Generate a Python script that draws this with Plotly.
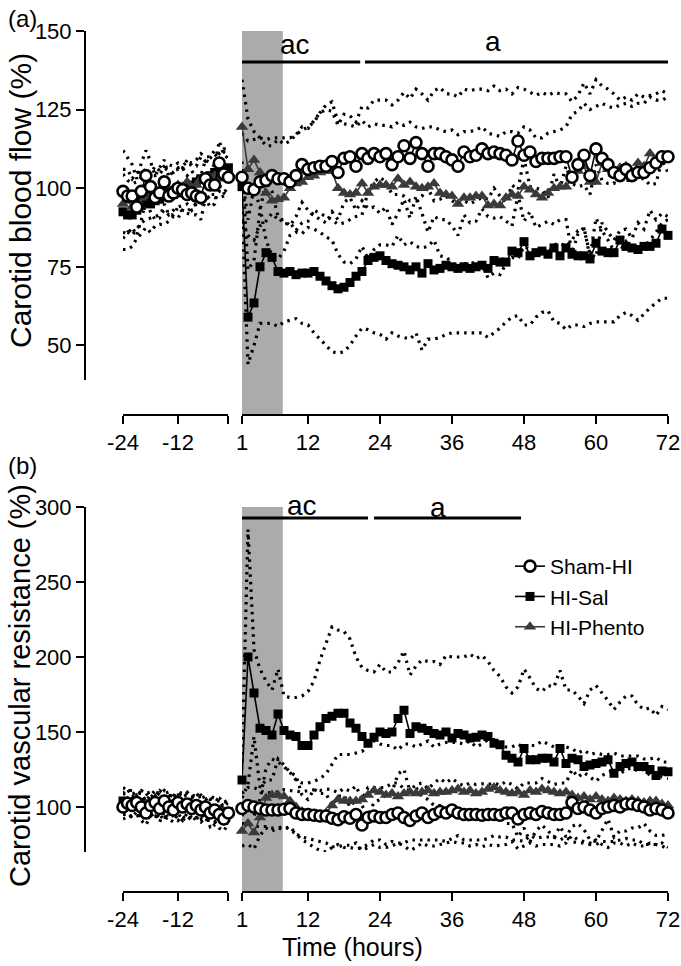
import plotly.graph_objects as go

# ---------------- DATA ----------------
pre_hours = list(range(-24, 0))      # -24 .. -1 h
post_hours = list(range(1, 73))      # 1 .. 72 h

# Panel (a) carotid blood flow (%), mean and SD
flow_pre_sham = [99, 97.5, 97.5, 94, 99, 104, 100.5, 97, 98.5, 102, 97.5, 98.5, 100, 99.5, 98, 98.5, 97.5, 97, 103, 101, 101, 108, 104.5, 103.5]
flow_pre_sal = [92.5, 91.5, 91.5, 93, 94.5, 95.5, 95, 96, 96.5, 97.5, 97.5, 98, 98.5, 100, 100.5, 101, 102, 103, 103, 104, 105, 105, 105.5, 106.5]
flow_pre_phento = [95, 96, 94, 96, 97, 98, 97.5, 99, 98.5, 100, 99.5, 100, 101, 100.5, 102, 100, 101, 103, 102.5, 103.5, 104, 103, 104.5, 104]
flow_pre_sham_sd = [13, 12, 10, 9, 9, 8, 8, 7, 8, 7, 6, 7, 6, 7, 6, 7, 6, 7, 6, 7, 6, 7, 6, 6]
flow_pre_sal_sd = [12, 11, 10, 9, 9, 8, 9, 8, 8, 9, 8, 7, 8, 7, 8, 7, 7, 8, 7, 6, 7, 6, 7, 6]
flow_pre_phento_sd = [11, 10, 9, 9, 8, 8, 7, 8, 7, 7, 8, 7, 7, 6, 7, 7, 6, 7, 6, 6, 7, 6, 7, 6]

flow_post_sham = [103.5, 100, 99.5, 102, 102.5, 104, 103, 103, 102, 104,
                  107.5, 106, 106.5, 107, 107, 108.5, 105, 109.5, 110, 107,
                  111, 109.5, 111, 110, 111, 107.5, 110, 113.5, 109.5, 114.5,
                  111, 107, 111, 111, 110, 109, 107, 111.5, 110, 110.5,
                  112.5, 111, 111.5, 111, 110.5, 109, 115, 110.5, 111.5, 108.5,
                  109.5, 109.5, 109.5, 110, 110, 103.5, 107.5, 110.5, 104, 112.5,
                  109.5, 107.5, 105, 104, 106, 104, 105, 105, 106.5, 108,
                  110, 110]
flow_post_sham_sd = [14, 15, 16, 14, 13, 12, 13, 13, 14, 13,
                     12, 13, 15, 17, 18, 16, 15, 14, 13, 14,
                     15, 16, 17, 18, 17, 19, 18, 17, 19, 17,
                     19, 21, 20, 21, 20, 21, 22, 20, 21, 21,
                     19, 20, 21, 20, 21, 21, 17, 21, 19, 21,
                     21, 20, 21, 20, 20, 24, 22, 23, 26, 22,
                     23, 24, 25, 24, 23, 24, 25, 24, 23, 22,
                     21, 20]
flow_post_sal = [100.5, 59, 63.5, 75, 79.5, 78, 73.5, 73, 73.5, 72.5,
                 73, 73, 73.5, 72, 70.5, 69, 68, 68.5, 70, 72,
                 73.5, 77, 78, 78.5, 77, 76, 75.5, 75, 74, 75,
                 73, 76, 74, 74.5, 75.5, 75, 74.5, 75, 74.5, 75,
                 75.5, 74.5, 77, 76.5, 76.5, 80, 79.5, 83, 78.5, 79.5,
                 80, 79, 81, 78.5, 81, 79, 78.5, 78.5, 77.5, 82.5,
                 80, 79.5, 79.5, 83.5, 81.5, 81, 80.5, 81.5, 81.5, 82.5,
                 87, 85]
flow_post_sal_sd = [8, 15, 13.5, 18, 22.5, 21, 17.5, 15.5, 15.5, 14,
                    16, 16.5, 19.5, 20, 20.5, 21, 20.5, 20.5, 20, 19,
                    18, 22, 24, 25, 25, 22, 22.5, 22.5, 22, 21,
                    24.5, 24, 22, 22, 22, 21, 20.5, 21, 20.5, 21,
                    21.5, 22, 23, 21, 19, 21, 20, 26.5, 22, 20.5,
                    19.5, 18, 23.5, 21.5, 26, 22.5, 22, 22.5, 20.5, 25,
                    22.5, 22, 22, 24, 21, 21.5, 22.5, 21.5, 19.5, 19,
                    22, 20]
flow_post_phento = [119.5, 106, 109, 105, 98.5, 96, 96.5, 97, 100, 101.5,
                    102, 103.5, 104, 105, 105.5, 105.5, 100, 98.5, 98, 98.5,
                    101.5, 98.5, 100.5, 101, 101, 100.5, 103, 101, 102, 100.5,
                    100, 100.5, 101.5, 98.5, 98, 97.5, 95, 97, 97, 97.5,
                    97.5, 94.5, 95, 94.5, 97, 98, 97.5, 100.5, 99.5, 98,
                    97, 98.5, 100, 100.5, 100.5, 103.5, 105.5, 107, 102, 102,
                    108, 106, 104.5, 106.5, 107, 105, 108, 107, 111, 109,
                    110, 110]
flow_post_phento_sd = [15, 16, 9, 11, 15, 17.5, 19, 17, 15, 15.5,
                       16.5, 16, 17, 19, 21, 22, 21, 22, 22, 21,
                       20, 21, 20, 19, 19, 19, 18, 19, 19, 19,
                       19, 19, 18, 20, 20, 21, 22, 21, 21, 21,
                       22, 23, 22, 22, 21, 20, 20, 19, 19, 18,
                       19, 19, 18, 18, 19, 20, 19, 20, 23, 24,
                       19, 20, 21, 20, 20, 21, 19, 20, 18, 19,
                       18, 19]

# Panel (b) carotid vascular resistance (%), mean and SD
res_pre_sham = [100, 102.5, 101, 103, 100, 96, 101, 103, 99, 104, 100, 98, 103, 100, 102, 99, 101, 98, 100, 96, 98, 95, 92, 96]
res_pre_sal = [104, 103, 102, 101, 103, 100, 102, 101, 103, 100, 102, 101, 99, 102, 100, 101, 99, 100, 98, 99, 97, 98, 96, 97]
res_pre_phento = [102, 104, 100, 103, 101, 102, 100, 103, 101, 100, 102, 100, 101, 99, 102, 100, 99, 101, 98, 99, 97, 98, 97, 96]
res_pre_sham_sd = [8, 9, 7, 8, 9, 8, 7, 8, 9, 7, 8, 8, 7, 9, 8, 7, 8, 8, 7, 9, 8, 9, 8, 7]
res_pre_sal_sd = [9, 8, 9, 7, 8, 9, 8, 7, 8, 9, 8, 7, 8, 8, 9, 7, 8, 8, 7, 8, 9, 8, 7, 8]
res_pre_phento_sd = [7, 8, 7, 6, 8, 7, 6, 7, 8, 7, 6, 7, 7, 8, 6, 7, 7, 6, 7, 8, 7, 6, 7, 6]

res_post_sham = [99, 101, 100, 99, 98, 98, 98, 98.5, 99, 96,
                 95, 95, 94.5, 94, 94, 92.5, 91.5, 93.5, 92.5, 95,
                 88, 93, 94, 93, 93, 95, 96, 93, 91, 94,
                 96, 93, 95, 97, 96, 98, 96, 95, 95, 95,
                 94.5, 95, 95, 94.5, 96, 96, 92, 95, 96, 95,
                 97, 96, 95, 95, 96, 103, 99, 100, 98, 96,
                 99, 100, 101, 100, 102, 102, 101, 100, 98, 99,
                 98, 96]
res_post_sham_sd = [10, 12, 13, 12, 11, 12, 12, 13, 12, 14,
                    15, 16, 17, 17, 18, 19, 18, 19, 18, 19,
                    17, 20, 19, 20, 20, 21, 20, 19, 20, 21,
                    20, 19, 21, 22, 20, 21, 20, 19, 21, 20,
                    21, 20, 21, 20, 21, 19, 20, 21, 20, 21,
                    22, 21, 20, 21, 20, 22, 21, 23, 22, 21,
                    22, 23, 24, 22, 23, 24, 23, 25, 23, 24,
                    22, 23]
res_post_sal = [118, 200, 176, 152.5, 151, 148, 162, 151, 148, 147,
                141, 141, 148, 153.5, 159, 160.5, 162.5, 162.5, 156, 152.5,
                147, 142.5, 146.5, 150, 149, 150, 159, 164.5, 149, 153.5,
                152.5, 151, 149, 148, 150, 146, 149, 148, 146, 146.5,
                148, 147, 142.5, 141.5, 134.5, 132.5, 130, 139, 131.5, 131.5,
                132.5, 132.5, 130, 139, 129, 132.5, 131.5, 127, 128, 129,
                130, 131.5, 122.5, 127, 129, 130, 127, 127, 125, 121,
                124, 123.5]
res_post_sal_sd = [12, 85, 29, 39.5, 33, 30, 30, 23, 25, 26,
                   33, 36, 36, 44.5, 50, 59.5, 55.5, 54.5, 56, 47.5,
                   46, 48.5, 43.5, 45, 41, 40, 37, 39.5, 39, 40.5,
                   45.5, 46, 48, 47, 51, 54, 51, 52, 56, 52.5,
                   53, 50, 48.5, 45.5, 45.5, 43.5, 50, 53, 54.5, 47.5,
                   44.5, 48.5, 50, 52, 49, 45.5, 42.5, 42, 50, 52,
                   46, 39.5, 42.5, 43, 45, 44, 41, 38, 41, 40,
                   43, 41.5]
res_post_phento = [84, 89, 83, 93, 106, 108, 108, 107, 104, 100,
                   97, 96, 95, 95, 96, 101, 105, 104, 104, 104,
                   105, 108, 111, 110, 108, 109, 107, 109, 110, 109,
                   110, 111, 109, 110, 110, 111, 112, 110, 111, 109,
                   110, 112, 113, 111, 110, 109, 110, 108, 111, 110,
                   112, 111, 110, 109, 110, 108, 106, 107, 105, 107,
                   105, 104, 106, 105, 104, 105, 104, 103, 104, 104,
                   102, 101]
res_post_phento_sd = [10, 14, 11, 12, 20, 24, 22, 20, 19, 18,
                      19, 20, 22, 24, 26, 28, 30, 31, 31, 32,
                      32, 33, 33, 32, 33, 32, 31, 33, 32, 31,
                      32, 33, 31, 32, 33, 32, 31, 32, 33, 31,
                      32, 33, 32, 31, 30, 31, 32, 31, 30, 31,
                      32, 31, 30, 31, 30, 31, 30, 31, 30, 29,
                      30, 31, 30, 29, 30, 29, 30, 29, 28, 29,
                      28, 29]

group_names = ["Sham-HI", "HI-Sal", "HI-Phento"]
flow_yticks = [50, 75, 100, 125, 150]
res_yticks = [100, 150, 200, 250, 300]
pre_ticks = [-24, -12, -1]
pre_ticktext = ["-24", "-12", ""]
post_ticks = [1, 12, 24, 36, 48, 60, 72]

# ---------------- STYLE ----------------
W, H = 681, 966
FONT = "Liberation Sans, Arial, Helvetica, sans-serif"
BLACK = "#000000"
PHENTO_C = "#3a3a3a"

styles = {
    "Sham-HI": dict(marker=dict(symbol="circle", size=11, color="white",
                                line=dict(color=BLACK, width=2.6)),
                    line=dict(color=BLACK, width=1.6), rank=1),
    "HI-Sal": dict(marker=dict(symbol="square", size=9, color=BLACK,
                               line=dict(color=BLACK, width=0)),
                   line=dict(color=BLACK, width=1.6), rank=2),
    "HI-Phento": dict(marker=dict(symbol="triangle-up", size=11, color=PHENTO_C,
                                  line=dict(color=PHENTO_C, width=0)),
                      line=dict(color=PHENTO_C, width=1.6), rank=3),
}

def px_x(p):
    return p / W

def px_y(p):
    return 1 - p / H

fig = go.Figure()

def add_bands(xa, ya, hours, mean, sd):
    upper = [m + s for m, s in zip(mean, sd)]
    lower = [m - s for m, s in zip(mean, sd)]
    for band in (upper, lower):
        fig.add_trace(go.Scatter(
            x=hours, y=band, mode="lines", xaxis=xa, yaxis=ya,
            line=dict(color=BLACK, width=3.2, dash="2.5px,5px"),
            showlegend=False, hoverinfo="skip", cliponaxis=False))

def add_mean(xa, ya, hours, mean, name, legend):
    st = styles[name]
    fig.add_trace(go.Scatter(
        x=hours, y=mean, mode="lines+markers", xaxis=xa, yaxis=ya,
        name=name, marker=st["marker"], line=st["line"],
        showlegend=legend, legendrank=st["rank"], cliponaxis=False))

panels = [
    ("x", "x2", "y",
     [flow_pre_sham, flow_pre_sal, flow_pre_phento],
     [flow_pre_sham_sd, flow_pre_sal_sd, flow_pre_phento_sd],
     [flow_post_sham, flow_post_sal, flow_post_phento],
     [flow_post_sham_sd, flow_post_sal_sd, flow_post_phento_sd], False),
    ("x3", "x4", "y2",
     [res_pre_sham, res_pre_sal, res_pre_phento],
     [res_pre_sham_sd, res_pre_sal_sd, res_pre_phento_sd],
     [res_post_sham, res_post_sal, res_post_phento],
     [res_post_sham_sd, res_post_sal_sd, res_post_phento_sd], True),
]

draw_order = [1, 2, 0]  # Sal, Phento, Sham on top
for xpre, xpost, ya, pre_m, pre_s, post_m, post_s, leg in panels:
    for i in range(3):
        add_bands(xpre, ya, pre_hours, pre_m[i], pre_s[i])
        add_bands(xpost, ya, post_hours, post_m[i], post_s[i])
    for i in draw_order:
        add_mean(xpre, ya, pre_hours, pre_m[i], group_names[i], False)
        add_mean(xpost, ya, post_hours, post_m[i], group_names[i], leg)

tickfont = dict(family=FONT, size=22, color=BLACK)
axis_common = dict(showline=True, linecolor=BLACK, linewidth=2, ticks="outside",
                   ticklen=8, tickwidth=2, tickcolor=BLACK, showgrid=False,
                   zeroline=False, tickfont=tickfont, anchor="free")

xa_pre_dom = [px_x(123), px_x(228.4)]
xa_post_dom = [px_x(242), px_x(668)]

fig.update_layout(
    width=W, height=H,
    margin=dict(l=0, r=0, t=0, b=0, pad=0, autoexpand=False),
    paper_bgcolor="white", plot_bgcolor="rgba(0,0,0,0)",
    font=dict(family=FONT, color=BLACK),
    xaxis=dict(domain=xa_pre_dom, range=[-24, -1], position=px_y(415),
               tickvals=pre_ticks, ticktext=pre_ticktext, **axis_common),
    xaxis2=dict(domain=xa_post_dom, range=[1, 72], position=px_y(415),
                tickvals=post_ticks, **axis_common),
    xaxis3=dict(domain=xa_pre_dom, range=[-24, -1], position=px_y(892),
                tickvals=pre_ticks, ticktext=pre_ticktext, **axis_common),
    xaxis4=dict(domain=xa_post_dom, range=[1, 72], position=px_y(892),
                tickvals=post_ticks, **axis_common),
    yaxis=dict(domain=[px_y(380), px_y(31)], range=[39, 150], position=px_x(85),
               tickvals=flow_yticks, **axis_common),
    yaxis2=dict(domain=[px_y(852), px_y(507)], range=[70, 300], position=px_x(85),
                tickvals=res_yticks, **axis_common),
    legend=dict(x=px_x(510), y=px_y(546), xanchor="left", yanchor="top",
                font=dict(family=FONT, size=21, color=BLACK),
                bgcolor="rgba(0,0,0,0)", itemwidth=30, tracegroupgap=0),
    showlegend=True,
)

# shaded treatment window
for y0, y1 in ((415, 31), (892, 507)):
    fig.add_shape(type="rect", xref="x2", yref="paper", x0=1, x1=7.8,
                  y0=px_y(y0), y1=px_y(y1), fillcolor="#ababab",
                  line=dict(width=0), layer="below")

# significance bars
bars = [(62, 1, 20.7), (62, 21.5, 72), (518, 1, 22), (518, 23, 47.5)]
for ypx, xa0, xa1 in bars:
    fig.add_shape(type="line", xref="x2", yref="paper", x0=xa0, x1=xa1,
                  y0=px_y(ypx), y1=px_y(ypx), line=dict(color=BLACK, width=3))

def note(text, x, y, size, xref="paper", angle=0):
    fig.add_annotation(text=text, x=x, xref=xref, y=y, yref="paper",
                       showarrow=False, textangle=angle,
                       font=dict(family=FONT, size=size, color=BLACK),
                       xanchor="center", yanchor="middle")

for txt, xv, ypx in [("ac", 9.8, 44), ("a", 42.8, 42), ("ac", 11, 505), ("a", 33.6, 507)]:
    note(txt, xv, px_y(ypx), 28, xref="x2")

note("(a)", px_x(22), px_y(18), 24)
note("(b)", px_x(22), px_y(465), 24)
note("Carotid blood flow (%)", px_x(20), px_y(201), 30, angle=-90)
note("Carotid vascular resistance (%)", px_x(20), px_y(686), 29, angle=-90)
note("Time (hours)", px_x(352), px_y(947), 25)

fig.write_html("out.html",
               config={"displayModeBar": False},
               post_script="document.body.style.margin='0px';"
                           "document.body.style.padding='0px';")
